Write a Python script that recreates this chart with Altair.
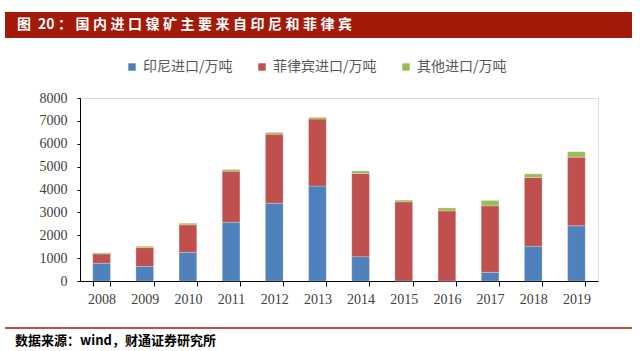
import altair as alt
import pandas as pd

years = ["2008", "2009", "2010", "2011", "2012", "2013", "2014", "2015", "2016", "2017", "2018", "2019"]
indonesia = [775, 640, 1255, 2570, 3400, 4150, 1065, 5, 0, 380, 1520, 2410]
philippines = [410, 820, 1200, 2230, 3020, 2930, 3635, 3455, 3065, 2905, 3005, 3005]
others = [45, 60, 70, 75, 75, 75, 110, 75, 130, 235, 160, 235]
series = ["印尼进口/万吨", "菲律宾进口/万吨", "其他进口/万吨"]
colors = ["#4F81BD", "#C0504D", "#9BBB59"]

title_head = "图 20："
title_body = "国内进口镍矿主要来自印尼和菲律宾"
source_text = "数据来源：wind，财通证券研究所"

rows = []
for i, y in enumerate(years):
    for k, (name, vals) in enumerate(zip(series, [indonesia, philippines, others])):
        rows.append({"year": y, "series": name, "value": vals[i], "order": k})
df = pd.DataFrame(rows)

W, H = 518, 183
serif = "Liberation Serif"
cjk = "Noto Sans CJK SC"

bars = alt.Chart(df).mark_bar(stroke="white", strokeWidth=0.4, strokeOpacity=0.6).encode(
    x=alt.X("year:N", sort=years, title=None,
            scale=alt.Scale(paddingInner=0.59, paddingOuter=0.295),
            axis=alt.Axis(labelAngle=0, labelFont=serif, labelFontSize=14, labelColor="#404040",
                          tickBand="extent", tickSize=5, tickColor="black", domainColor="black",
                          labelPadding=6, grid=False)),
    y=alt.Y("value:Q", stack="zero", title=None,
            scale=alt.Scale(domain=[0, 8000], nice=False),
            axis=alt.Axis(values=list(range(0, 8001, 1000)), format="d", labelFont=serif, labelFontSize=14,
                          labelColor="#404040", tickSize=3, tickColor="black", domainColor="black",
                          labelPadding=10, grid=False)),
    color=alt.Color("series:N", sort=series,
                    scale=alt.Scale(domain=series, range=colors),
                    legend=alt.Legend(title=None, orient="none", direction="horizontal",
                                      legendX=45, legendY=-38, symbolType="square", symbolSize=55,
                                      symbolStrokeWidth=0, labelFont=cjk, labelFontSize=14,
                                      labelColor="#595959", columnPadding=22, symbolOffset=0,
                                      labelOffset=4)),
    order=alt.Order("order:Q", sort="ascending"),
)

spaced_title = "图\u2005\u200520\u2005：\u2005" + "\u2005".join(title_body)

banner = alt.Chart(pd.DataFrame({"t": [spaced_title]})).mark_rect(color="#A31A0A").encode(
    x=alt.value(-75), x2=alt.value(552), y=alt.value(-86), y2=alt.value(-60)
)
title = alt.Chart(pd.DataFrame({"t": [spaced_title]})).mark_text(
    align="left", baseline="middle", font=cjk, fontSize=14, fontWeight="bold", color="white"
).encode(text="t:N", x=alt.value(-63), y=alt.value(-73))

footer_line = alt.Chart(pd.DataFrame({"t": [source_text]})).mark_rule(color="#A31A0A", strokeWidth=1.5).encode(
    x=alt.value(-75), x2=alt.value(552), y=alt.value(230)
)
footer = alt.Chart(pd.DataFrame({"t": [source_text]})).mark_text(
    align="left", baseline="middle", font=cjk, fontSize=13, fontWeight="bold", color="black"
).encode(text="t:N", x=alt.value(-65), y=alt.value(243))

chart = alt.layer(banner, title, bars, footer_line, footer).properties(
    width=W, height=H,
    autosize=alt.AutoSizeParams(type="none"),
    padding={"left": 80, "top": 98, "right": 42, "bottom": 70},
).configure_view(stroke=None).configure(background="white")

chart.save("out.html", embed_options={"renderer": "svg", "actions": False})
